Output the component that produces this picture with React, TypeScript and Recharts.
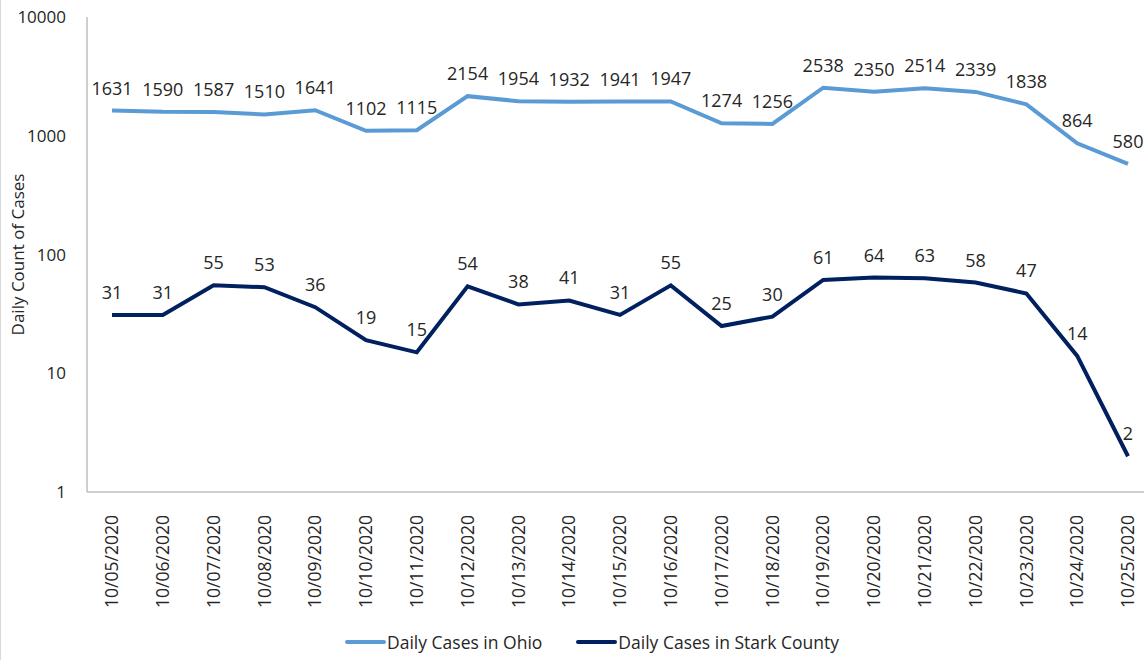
import React from "react";
import { LineChart, Line, XAxis, YAxis, Legend, LabelList } from "recharts";

const dates = [
  "10/05/2020", "10/06/2020", "10/07/2020", "10/08/2020", "10/09/2020", "10/10/2020", "10/11/2020",
  "10/12/2020", "10/13/2020", "10/14/2020", "10/15/2020", "10/16/2020", "10/17/2020", "10/18/2020",
  "10/19/2020", "10/20/2020", "10/21/2020", "10/22/2020", "10/23/2020", "10/24/2020", "10/25/2020",
];
const ohioCases = [1631, 1590, 1587, 1510, 1641, 1102, 1115, 2154, 1954, 1932, 1941, 1947, 1274, 1256, 2538, 2350, 2514, 2339, 1838, 864, 580];
const starkCases = [31, 31, 55, 53, 36, 19, 15, 54, 38, 41, 31, 55, 25, 30, 61, 64, 63, 58, 47, 14, 2];
const yTicks = [1, 10, 100, 1000, 10000];

const data = dates.map((d, i) => ({ date: d, ohio: ohioCases[i], stark: starkCases[i] }));

const FONT = "'Open Sans', sans-serif";
const TEXT = "#262626";

function DateTick(props: any) {
  const { x, y, payload } = props;
  return (
    <text
      x={x}
      y={y + 15}
      transform={`rotate(-90, ${x}, ${y + 15})`}
      textAnchor="end"
      dy="0.35em"
      fill={TEXT}
      fontSize={17.5}
      fontFamily={FONT}
    >
      {payload.value}
    </text>
  );
}

function LegendContent(props: any) {
  const items = props.payload || [];
  return (
    <div style={{ display: "flex", marginLeft: 342, fontFamily: FONT, fontSize: 17.5, color: TEXT }}>
      {items.map((it: any, i: number) => (
        <div key={i} style={{ display: "flex", alignItems: "center", marginRight: 32 }}>
          <svg width={44} height={10}>
            <line x1={4} y1={5} x2={41} y2={5} stroke={it.color} strokeWidth={4} strokeLinecap="round" />
          </svg>
          <span>{it.value}</span>
        </div>
      ))}
    </div>
  );
}

export default function App() {
  return (
    <div style={{ position: "absolute", left: 0, top: 0, width: 1144, height: 660, background: "#fff", borderLeft: "1px solid #d9d9d9", boxSizing: "border-box" }}>
      <LineChart width={1143} height={660} data={data} margin={{ top: 17, right: 0, bottom: 0, left: 0 }}>
        <XAxis
          dataKey="date"
          interval={0}
          height={138}
          tick={<DateTick />}
          tickLine={false}
          axisLine={{ stroke: "#bfbfbf", strokeWidth: 1.5 }}
          padding={{ left: 25, right: 16 }}
        />
        <YAxis
          scale="log"
          domain={[1, 10000]}
          ticks={yTicks}
          allowDataOverflow
          width={86}
          tickLine={false}
          tickSize={0}
          tickMargin={21}
          axisLine={{ stroke: "#bfbfbf", strokeWidth: 1.5 }}
          tick={{ fill: TEXT, fontSize: 17, fontFamily: FONT }}
          label={{
            value: "Daily Count of Cases",
            angle: -90,
            position: "insideLeft",
            offset: 17,
            style: { textAnchor: "middle", fill: TEXT, fontSize: 17, fontFamily: FONT },
          }}
        />
        <Legend verticalAlign="bottom" height={30} content={<LegendContent />} wrapperStyle={{ left: 0, width: 1143 }} />
        <Line
          type="linear"
          dataKey="ohio"
          name="Daily Cases in Ohio"
          stroke="#5b9bd5"
          strokeWidth={4}
          dot={false}
          isAnimationActive={false}
        >
          <LabelList dataKey="ohio" position="top" offset={16} fill={TEXT} fontSize={18} fontFamily={FONT} />
        </Line>
        <Line
          type="linear"
          dataKey="stark"
          name="Daily Cases in Stark County"
          stroke="#002060"
          strokeWidth={4}
          dot={false}
          isAnimationActive={false}
        >
          <LabelList dataKey="stark" position="top" offset={16} fill={TEXT} fontSize={18} fontFamily={FONT} />
        </Line>
      </LineChart>
    </div>
  );
}
